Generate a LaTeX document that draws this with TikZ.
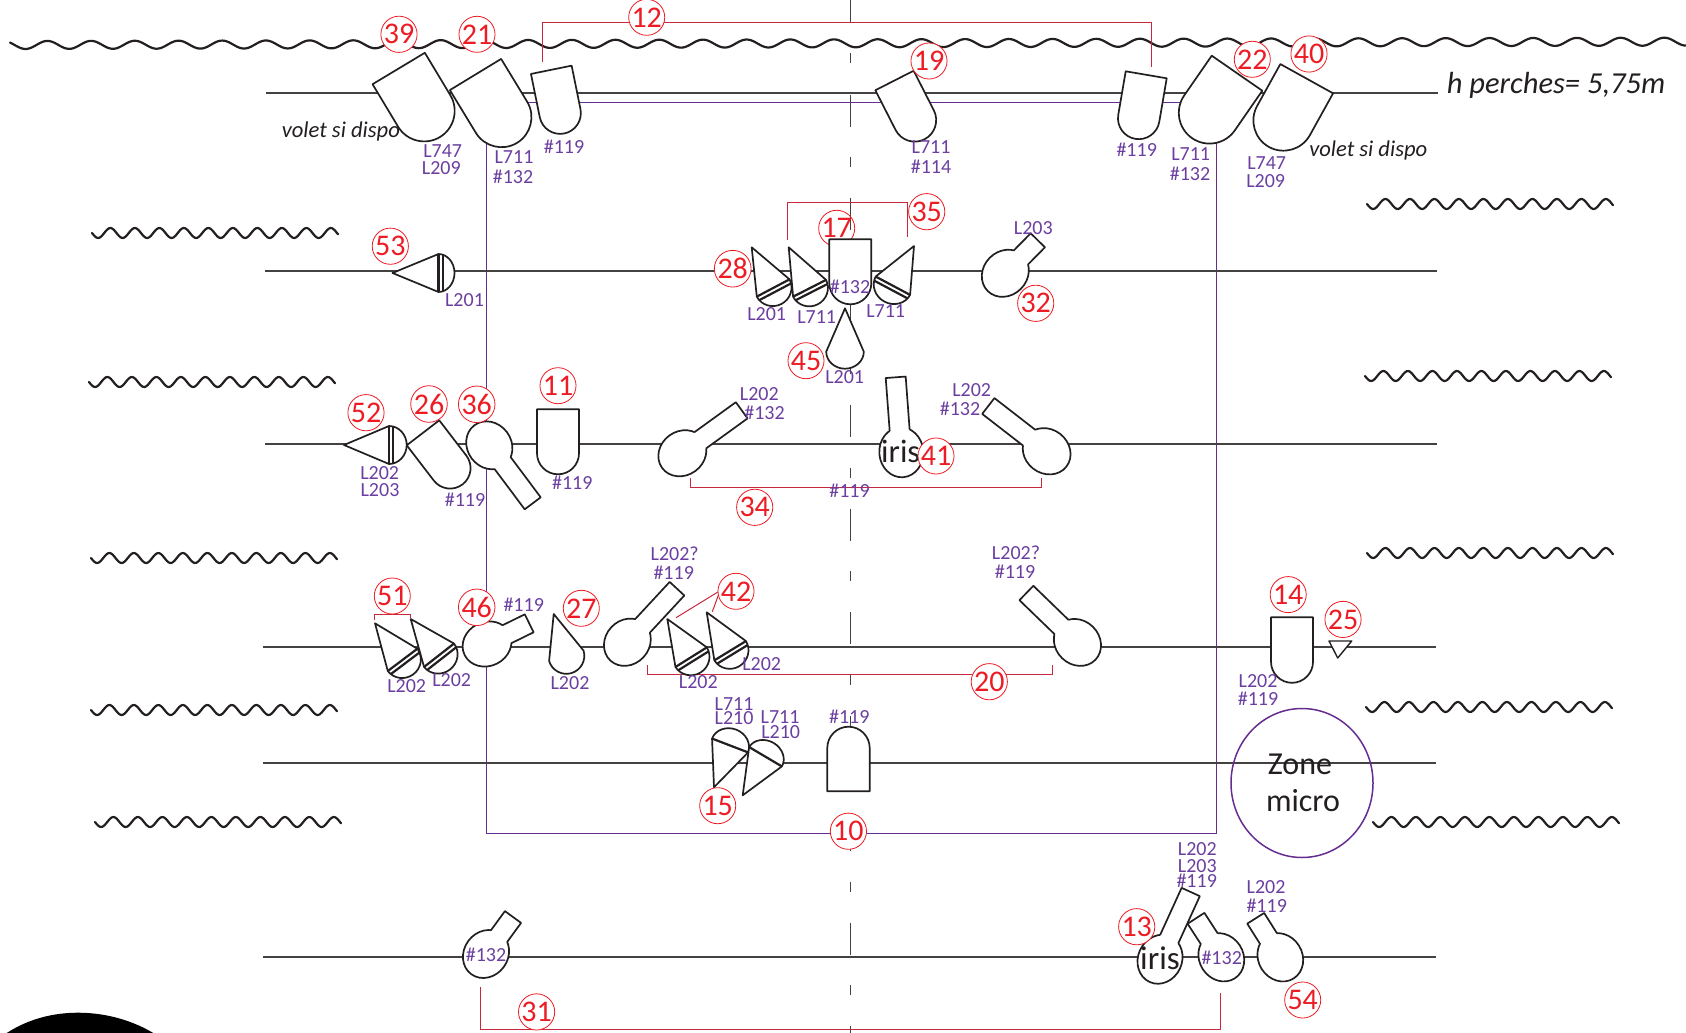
\documentclass[tikz,border=0pt]{standalone}
\usepackage{fontspec}
\usetikzlibrary{shapes.geometric}
\setmainfont{Carlito}
\definecolor{ink}{HTML}{231F20}
\definecolor{purp}{HTML}{662D91}
\definecolor{purptxt}{HTML}{6B3FA0}
\definecolor{redn}{HTML}{ED1C24}
\definecolor{redl}{HTML}{C8283C}
\newcounter{labc}
\tikzset{
  x=1pt,y=-1pt,
  lamp/.style={draw=ink,fill=white,line width=1.7pt,line join=round},
  stripe/.style={draw=ink,line width=2.2pt},
  rail/.style={draw=ink!85,line width=1.5pt},
  wavy/.style={draw=ink,line width=2.2pt,line cap=round,line join=round},
  frameline/.style={draw=purp,line width=1pt},
  bracket/.style={draw=redl,line width=1pt},
  numcirc/.style={circle,draw=redn,line width=.8pt,fill=white,minimum size=31pt,inner sep=0pt,text=redn,font=\fontsize{30}{30}\selectfont},
  numopen/.style={numcirc,fill=none},
  purplab/.style={text=purptxt,inner sep=0pt,font=\fontsize{20}{20}\selectfont},
  blacklab/.style={text=ink,inner sep=0pt},
  centreseg/.style={draw=ink!85,line width=1.6pt}
}
% bucket: top-centre x y, rot, width, length
\newcommand{\bucket}[5]{\begin{scope}[shift={(#1,#2)},rotate=#3]
  \pgfmathsetmacro\hwd{(#4)/2}\pgfmathsetmacro\sty{(#5)-(#4)/2}\pgfmathsetmacro\kaa{(#4)/2*0.55}\pgfmathsetmacro\eny{#5}
  \path[lamp] (-\hwd,0)--(\hwd,0)--(\hwd,\sty) .. controls (\hwd,\sty+\kaa) and (\kaa,\eny) .. (0,\eny) .. controls (-\kaa,\eny) and (-\hwd,\sty+\kaa) .. (-\hwd,\sty) -- cycle;
\end{scope}}
% cone: tip x y, rot, width, length, cap, stripes(0/1/2)
\newcommand{\cone}[7]{\begin{scope}[shift={(#1,#2)},rotate=#3]
  \pgfmathsetmacro\hwd{(#4)/2}\pgfmathsetmacro\kaa{(#4)/2*0.55}\pgfmathsetmacro\lla{#5}\pgfmathsetmacro\capy{(#5)+(#6)}\pgfmathsetmacro\kbb{(#5)+(#6)*0.55}
  \path[lamp] (0,0)--(\hwd,\lla) .. controls (\hwd,\kbb) and (\kaa,\capy) .. (0,\capy) .. controls (-\kaa,\capy) and (-\hwd,\kbb) .. (-\hwd,\lla) -- cycle;
  \ifnum#7>0 \path[stripe] (-\hwd,\lla)--(\hwd,\lla); \fi
  \ifnum#7>1 \pgfmathsetmacro\lbb{(#5)+4.3}\pgfmathsetmacro\hxx{(#4)/2-.8}\path[stripe] (-\hxx,\lbb)--(\hxx,\lbb); \fi
\end{scope}}
% ellipsoidal: tube end x y, body centre x y
\newcommand{\ellip}[4]{\begin{scope}[shift={(#1,#2)}]
  \pgfmathsetmacro\rtt{atan2((#3)-(#1),(#4)-(#2))}\pgfmathsetmacro\lnn{veclen((#3)-(#1),(#4)-(#2))}\pgfmathsetmacro\tll{\lnn-25+3}\pgfmathsetmacro\tff{\lnn-25+4.5}
  \begin{scope}[rotate=\rtt]
  \path[lamp] (0,\lnn) ellipse [x radius=22pt,y radius=25pt];
  \fill[white] (-9.6,0) rectangle (9.6,\tff);
  \draw[draw=ink,line width=1.7pt,line join=round] (-10,\tll)--(-10,0)--(10,0)--(10,\tll);
  \end{scope}
\end{scope}}
\newcommand{\wave}[2]{\draw[wavy] plot[domain=0:246,samples=160] ({#1+\x},{#2+5*sin(\x/24.5*360)});}
\newcommand{\lab}[3]{\stepcounter{labc}\node[purplab] (lab\arabic{labc}) at (#1,#2) {#3};}
\newcommand{\num}[3]{\node[numcirc] (n#3) at (#1,#2) {#3};}
\begin{document}
\begin{tikzpicture}
\useasboundingbox (0,0) rectangle (1686,1033);
\fill[white] (0,0) rectangle (1686,1033);
% black blob
\fill[black] (6.7,1033) .. controls (30,1018) and (55,1012.7) .. (78,1012.7) .. controls (101,1012.7) and (128,1018) .. (153.3,1033) -- cycle;
% purple frame
\draw[frameline] (486,102) rectangle (1216,833);
% rails
\draw[rail] (266,93) -- (1438,93);
\draw[rail] (265,271) -- (1437,271);
\draw[rail] (265,444) -- (1437,444);
\draw[rail] (263,647) -- (1436,647);
\draw[rail] (263,763) -- (1436,763);
\draw[rail] (263,957) -- (1436,957);
% centre line
\foreach \a/\b in {0/23,53.5/63.5,94.5/126.5,157/167,198/230,260.5/270.5,301.5/333.5,364/374,405/437,467.5/477.5,508.5/540.5,571/581,612/644,674.5/684.5,715.5/747.5,778/788,819/851,881.5/891.5,922.5/954.5,985/995,1026/1033}
  \draw[centreseg] (850.5,\a) -- (850.5,\b);
% waves
\draw[wavy] plot[domain=10:1686,samples=900] (\x,{45-0.002*(\x-10)-4*cos((\x-353.3)/43.7*360)});
\wave{92}{233}
\wave{1367}{204}
\wave{89}{382}
\wave{1365}{376}
\wave{91}{558}
\wave{1367}{553}
\wave{91}{710}
\wave{1366}{707}
\wave{95}{822}
\wave{1373}{822}
% brackets
\draw[bracket] (542.5,62) -- (542.5,22.3) -- (1151.7,22.3) -- (1151.7,67.3);
\draw[bracket] (787,240) -- (787,202.3) -- (907.7,202.3) -- (907.7,236.7);
\draw[bracket] (690.7,478.3) -- (690.7,487.8) -- (1041,487.8) -- (1041,478.3);
\draw[bracket] (647.7,665) -- (647.7,674.3) -- (1052.7,674.3) -- (1052.7,665);
\draw[bracket] (480.7,987) -- (480.7,1029.3) -- (1220.7,1029.3) -- (1220.7,993.3);
\draw[bracket] (374,620.3) -- (374,614.7) -- (410.7,614.7) -- (410.7,618.3);
\draw[bracket] (676,617.7) -- (720,590.7) -- (712.3,611.7);
% circle 17 lies under its lamp
\node[numopen] (n17) at (836.7,228.3) {17};
% row 1
\bucket{398.7}{68.5}{31}{61}{80}
\bucket{475.5}{74.5}{31.3}{60}{80}
\bucket{551.3}{69.8}{11.5}{41.5}{65}
\bucket{894.5}{80.5}{27}{43}{66}
\bucket{1146.2}{74.8}{-9.7}{41.6}{65}
\bucket{1237}{73.2}{-34.7}{61.5}{79}
\bucket{1306.7}{78.7}{-29}{60.3}{78}
% row 2
\cone{392.5}{273}{90}{38}{46}{16}{2}
\cone{751.7}{247.3}{27.8}{37}{46}{18}{2}
\cone{788.7}{247.3}{27}{37}{46}{18}{2}
\cone{914}{246}{-28}{39}{45}{18}{2}
\cone{845}{308.3}{0}{37.6}{43.4}{17}{0}
\bucket{850.3}{239.3}{0}{42}{65}
\ellip{1037.8}{240.3}{1005.3}{273.3}
% row 3
\cone{344}{445}{90}{38}{45}{17.7}{2}
\bucket{423}{432.8}{37.5}{41}{65}
\ellip{532.7}{503.3}{489.3}{445.3}
\bucket{558}{409.3}{0}{42}{65}
\ellip{741.7}{410.3}{682.3}{453.3}
\ellip{895.7}{377.3}{901.3}{452.3}
\ellip{988.3}{406}{1046.7}{451.3}
% row 4
\cone{375}{623.3}{37}{37}{45.8}{18}{2}
\cone{410.7}{619}{38}{38}{46}{18}{2}
\ellip{529.2}{623.3}{487}{644}
\cone{553.7}{614}{16.8}{36}{43.7}{18}{0}
\ellip{677}{588.7}{627.3}{642.3}
\cone{667.3}{619}{32}{37}{45}{18}{2}
\cone{706.7}{612.3}{31.4}{37}{45}{18}{2}
\ellip{1026.4}{593}{1077.5}{642.5}
\bucket{1292}{617.2}{0}{42}{65.6}
\path[lamp,line width=1.4pt] (1329,641) -- (1351.7,641) -- (1337.7,658) -- cycle;
% row 5
\cone{714}{787.3}{159}{38.6}{44.8}{17}{1}
\cone{742.7}{795.3}{149.4}{38}{44.8}{16}{1}
\bucket{848.5}{791.3}{180}{42.4}{64.6}
% row 6
\ellip{513}{917}{486}{954}
\ellip{1190.7}{892}{1160}{959.3}
\ellip{1196}{918.3}{1221.3}{957.3}
\ellip{1255.7}{918.3}{1280.3}{957.3}
% zone micro
\node[draw=purp,line width=1.5pt,ellipse,minimum width=142pt,minimum height=149pt,inner sep=0pt] (zone) at (1302,783) {};
\node[blacklab,font=\fontsize{32}{32}\selectfont] (zone1) at (1300,764.5) {Zone};
\node[blacklab,font=\fontsize{32}{32}\selectfont] (zone2) at (1303,801) {micro};
% black text
\node[blacklab,font=\fontsize{22.6}{22.6}\selectfont\itshape] (volet1) at (340.9,131.2) {volet si dispo};
\node[blacklab,font=\fontsize{22.6}{22.6}\selectfont\itshape] (volet2) at (1368.3,150.7) {volet si dispo};
\node[blacklab,font=\fontsize{30.5}{30.5}\selectfont\itshape] (hperches) at (1556,85) {h perches= 5,75m};
\node[blacklab,font=\fontsize{32.5}{32.5}\selectfont] (iris1) at (900.7,451.7) {iris};
\node[blacklab,font=\fontsize{33}{33}\selectfont] (iris2) at (1160,958.3) {iris};
% purple labels
\lab{442.7}{150.7}{L747}\lab{441.3}{167.7}{L209}
\lab{514}{157.3}{L711}\lab{513}{176.7}{\#132}
\lab{564}{146.7}{\#119}
\lab{931}{147.3}{L711}\lab{931}{166.7}{\#114}
\lab{1136.7}{149.3}{\#119}
\lab{1190.7}{154.3}{L711}\lab{1190}{174}{\#132}
\lab{1266.7}{163.3}{L747}\lab{1265.7}{180.7}{L209}
\lab{1033.3}{228.3}{L203}
\lab{464.5}{300}{L201}
\lab{766.7}{314.3}{L201}\lab{816.7}{316.7}{L711}\lab{850}{286.7}{\#132}\lab{885.7}{310.7}{L711}\lab{844.7}{377.3}{L201}
\lab{379.7}{473.3}{L202}\lab{380}{490}{L203}
\lab{465}{499.3}{\#119}\lab{572.3}{482.3}{\#119}
\lab{759.3}{394}{L202}\lab{764.5}{412.9}{\#132}
\lab{971.7}{390}{L202}\lab{960}{409}{\#132}
\lab{849.5}{490.3}{\#119}
\lab{674.7}{553.3}{L202?}\lab{673.7}{572.7}{\#119}
\lab{1016}{552.7}{L202?}\lab{1015}{572}{\#119}
\lab{523.7}{604.3}{\#119}
\lab{406.7}{686}{L202}\lab{451.7}{680}{L202}\lab{570}{683.3}{L202}\lab{698.3}{682.3}{L202}\lab{761.7}{664}{L202}
\lab{1258}{680.7}{L202}\lab{1258}{699}{\#119}
\lab{734}{704}{L711}\lab{734}{718.3}{L210}\lab{780}{717.3}{L711}\lab{780.7}{732.3}{L210}
\lab{849.3}{716.7}{\#119}
\lab{1197.3}{849.3}{L202}\lab{1197.3}{866}{L203}\lab{1196.7}{881}{\#119}
\lab{1266}{886.7}{L202}\lab{1266.7}{905.7}{\#119}
\lab{1221.7}{958.3}{\#132}
\lab{486}{954.8}{\#132}
% numbers
\num{399}{34.3}{39}\num{477}{34.3}{21}\num{646.7}{17.3}{12}\num{929}{61}{19}
\num{1252.3}{59.3}{22}\num{1309}{54}{40}\num{926.7}{211.7}{35}
\num{732.7}{268.7}{28}\num{390.3}{246.2}{53}\num{1035.7}{303.3}{32}\num{806}{360.7}{45}
\num{366}{412.7}{52}\num{429}{404}{26}\num{476.7}{404.3}{36}\num{558}{385.7}{11}
\num{754.7}{507.3}{34}\num{936}{456}{41}
\num{392.3}{596}{51}\num{476.7}{607.3}{46}\num{581.3}{608.3}{27}\num{736}{591.3}{42}
\num{989.3}{681.7}{20}\num{1288.2}{594.6}{14}\num{1343}{619.4}{25}
\num{717.7}{805.7}{15}\num{848.4}{831.2}{10}\num{1136.7}{926.7}{13}\num{1302.7}{1000}{54}\num{536.6}{1011.9}{31}
\end{tikzpicture}
\end{document}
